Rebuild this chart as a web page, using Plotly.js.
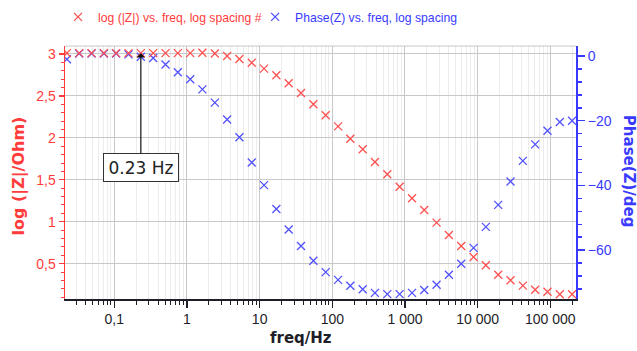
<!DOCTYPE html>
<html>
<head>
<meta charset="utf-8">
<script src="https://cdn.plot.ly/plotly-3.0.1.min.js"></script>
<style>
  html, body { margin: 0; padding: 0; background: #fff; }
  #chart { width: 637px; height: 351px; }
</style>
</head>
<body>
<div id="chart"></div>
<script>
// Impedance spectrum: frequency sweep with log spacing (Hz)
const freq = [0.0223, 0.0329, 0.0487, 0.0719, 0.106, 0.157, 0.232, 0.343, 0.507, 0.749,
              1.11, 1.63, 2.42, 3.57, 5.27, 7.79, 11.5, 17.0, 25.1, 37.1,
              54.9, 81.1, 120, 177, 262, 386, 571, 844, 1250, 1840,
              2720, 4020, 5940, 8780, 12970, 19170, 28320, 41840, 61830, 91350,
              135000, 199400];

// log10 of |Z| in Ohm
const logZ = [3.01, 3.01, 3.01, 3.01, 3.01, 3.01, 3.01, 3.01, 3.01, 3.01,
              3.01, 3.015, 3.005, 2.976, 2.94, 2.896, 2.825, 2.746, 2.651, 2.535,
              2.40, 2.27, 2.137, 1.99, 1.864, 1.712, 1.566, 1.418, 1.28, 1.14,
              0.989, 0.842, 0.711, 0.58, 0.481, 0.369, 0.302, 0.238, 0.19, 0.166,
              0.135, 0.135];

// Phase of Z in degrees
const phase = [-1.0, 0.8, 0.8, 0.8, 0.8, 0.5, -0.2, -0.6, -2.6, -5.0,
               -7.2, -10.3, -14.4, -19.6, -25.1, -32.9, -39.9, -47.3, -53.6, -58.7,
               -63.3, -66.8, -69.2, -71.0, -72.1, -73.2, -73.6, -73.6, -73.2, -72.3,
               -70.7, -67.6, -64.2, -59.3, -52.8, -46.0, -38.8, -32.4, -27.3, -23.1,
               -20.4, -20.0];

const seriesNames = ['log (|Z|) vs. freq, log spacing #', 'Phase(Z) vs. freq, log spacing'];
const markedIndex = 6;            // point labelled with its frequency
const markedLabel = '0.23 Hz';

const RED = '#ff3b3b';
const RED_MK = '#ff5050';
const BLUE = '#3a3aff';
const BLUE_MK = '#5050ff';
const DARK = '#1e1e28';

const traces = [
  {
    x: freq, y: logZ, name: seriesNames[0],
    type: 'scatter', mode: 'markers', xaxis: 'x', yaxis: 'y2',
    legend: 'legend',
    marker: { symbol: 'x-thin-open', size: 8, color: RED_MK, line: { color: RED_MK, width: 1.3 } }
  },
  {
    x: freq, y: phase, name: seriesNames[1],
    type: 'scatter', mode: 'markers', xaxis: 'x', yaxis: 'y',
    legend: 'legend2',
    marker: { symbol: 'x-thin-open', size: 8, color: BLUE_MK, line: { color: BLUE_MK, width: 1.3 } }
  }
];

const tickFont = { family: 'Arial, Liberation Sans, sans-serif', size: 14 };
const titleFamily = 'DejaVu Sans, sans-serif';
const legendFont = { family: 'Arial, Liberation Sans, sans-serif', size: 12.2 };

// label box geometry (px), arrow length below the marked point
const boxW = 76, boxH = 29, arrowLen = 114, shadowOff = 2;

const layout = {
  width: 637, height: 351,
  margin: { l: 65, r: 61, t: 46, b: 52, autoexpand: false },
  paper_bgcolor: '#fff', plot_bgcolor: '#fff',
  separators: ', ',
  showlegend: true,
  legend: {
    orientation: 'h', x: -0.0137, xanchor: 'left', y: 1.115, yanchor: 'middle',
    xref: 'paper', yref: 'paper', bgcolor: 'rgba(0,0,0,0)', borderwidth: 0,
    font: Object.assign({ color: RED }, legendFont)
  },
  legend2: {
    orientation: 'h', x: 0.372, xanchor: 'left', y: 1.115, yanchor: 'middle',
    xref: 'paper', yref: 'paper', bgcolor: 'rgba(0,0,0,0)', borderwidth: 0,
    font: Object.assign({ color: BLUE }, legendFont)
  },
  xaxis: {
    type: 'log', range: [-1.678, 5.353],
    dtick: 1, exponentformat: 'none', separatethousands: true,
    showline: true, linecolor: DARK, linewidth: 1.5,
    ticks: 'outside', ticklen: 7, tickwidth: 1.2, tickcolor: DARK,
    tickfont: Object.assign({ color: DARK }, tickFont),
    showgrid: true, gridcolor: '#c8c8c8', gridwidth: 1,
    zeroline: false,
    minor: { dtick: 'D1', ticks: 'outside', ticklen: 4, tickcolor: DARK, tickwidth: 1,
             showgrid: true, gridcolor: '#ececec', gridwidth: 1 }
  },
  // phase axis on the right
  yaxis: {
    side: 'right', anchor: 'x', range: [-75.1, 3.1],
    dtick: 20, tick0: 0,
    showline: true, linecolor: BLUE, linewidth: 2,
    ticks: 'outside', ticklen: 7, tickwidth: 1.5, tickcolor: BLUE,
    tickfont: Object.assign({ color: BLUE }, tickFont),
    showgrid: false, zeroline: false,
    minor: { dtick: 4, ticks: 'outside', ticklen: 4, tickcolor: BLUE, tickwidth: 1.5, showgrid: false }
  },
  // log|Z| axis on the left
  yaxis2: {
    side: 'left', overlaying: 'y', anchor: 'x', range: [0.079, 3.095],
    dtick: 0.5, tick0: 0,
    showline: true, linecolor: RED, linewidth: 1.5,
    ticks: 'outside', ticklen: 5, tickwidth: 1.2, tickcolor: RED,
    tickfont: Object.assign({ color: RED }, tickFont),
    showgrid: true, gridcolor: '#c8c8c8', gridwidth: 1, zeroline: false,
    minor: { dtick: 0.1, ticks: 'outside', ticklen: 3, tickcolor: RED, tickwidth: 1, showgrid: false }
  },
  shapes: [
    // light frame line along the top of the plot area
    { type: 'line', xref: 'paper', yref: 'paper', x0: 0, x1: 1, y0: 1, y1: 1,
      line: { color: '#c8c8c8', width: 1 } },
    // drop shadow of the frequency label box, anchored to the marked point
    { type: 'rect', layer: 'above',
      xref: 'x', xsizemode: 'pixel', xanchor: Math.log10(freq[markedIndex]),
      x0: -boxW / 2 + shadowOff, x1: boxW / 2 + shadowOff,
      yref: 'y2', ysizemode: 'pixel', yanchor: logZ[markedIndex],
      y0: -arrowLen - boxH / 2 - shadowOff, y1: -arrowLen + boxH / 2 - shadowOff,
      fillcolor: '#8a8a8a', line: { width: 0 } }
  ],
  annotations: [
    // axis titles
    { xref: 'paper', yref: 'paper', x: 0.462, y: -0.153, showarrow: false,
      text: '<b>freq/Hz</b>', font: { family: titleFamily, size: 15, color: DARK },
      xanchor: 'center', yanchor: 'middle' },
    { xref: 'paper', yref: 'paper', x: -0.09, y: 0.484, showarrow: false, textangle: -90,
      text: '<b>log (|Z|/Ohm)</b>', font: { family: titleFamily, size: 16, color: RED },
      xanchor: 'center', yanchor: 'middle' },
    { xref: 'paper', yref: 'paper', x: 1.104, y: 0.506, showarrow: false, textangle: 90,
      text: '<b>Phase(Z)/deg</b>', font: { family: titleFamily, size: 15, color: BLUE },
      xanchor: 'center', yanchor: 'middle' },
    // frequency label with arrow to the marked point
    { xref: 'x', yref: 'y2', x: Math.log10(freq[markedIndex]), y: logZ[markedIndex],
      showarrow: true, ax: 0, ay: arrowLen, arrowhead: 1, arrowsize: 1.2, arrowwidth: 1.2,
      arrowcolor: '#111', standoff: 0,
      width: boxW - 8, height: boxH - 8,
      text: markedLabel, font: { family: titleFamily, size: 17, color: '#222' },
      bgcolor: '#fff', bordercolor: '#333', borderwidth: 1, borderpad: 3 }
  ]
};

Plotly.newPlot('chart', traces, layout, { staticPlot: true, displayModeBar: false });
</script>
</body>
</html>
